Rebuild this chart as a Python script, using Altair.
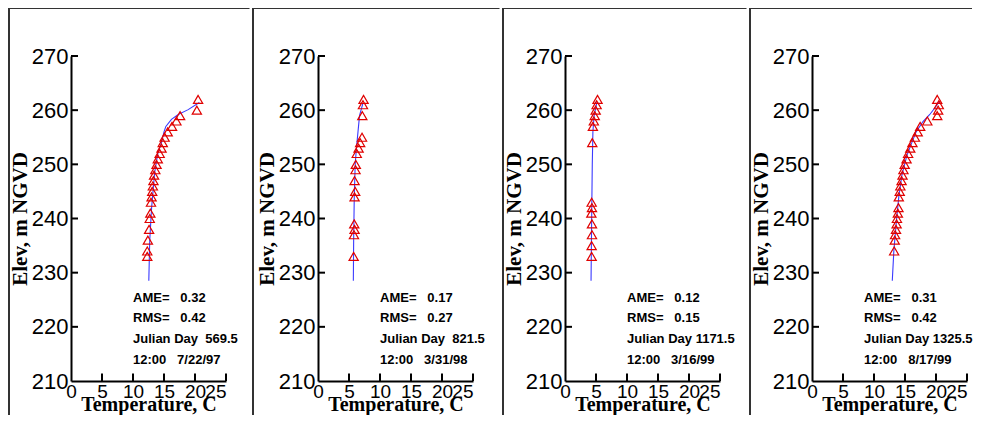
import altair as alt
import pandas as pd

# ---------------- data ----------------
ELEV_TICKS = [210, 220, 230, 240, 250, 260, 270]
TEMP_TICKS = [0, 5, 10, 15, 20, 25]

# Panel 1 : 7/22/97
p1_obs_elev = [262, 260, 259, 258, 257, 256, 255, 254, 253, 252, 251, 250, 249,
               248, 247, 246, 245, 244, 243, 241, 240, 238, 236, 234, 233]
p1_obs_temp = [20.5, 20.3, 17.6, 17.0, 16.3, 15.6, 15.1, 14.8, 14.6, 14.3, 14.0, 13.8, 13.6,
               13.4, 13.3, 13.2, 13.1, 13.0, 12.9, 12.8, 12.7, 12.6, 12.4, 12.3, 12.3]
p1_mod_elev = [228.5, 236, 242, 248.5, 252, 254, 256, 257, 258.3, 259.2, 260.1, 261.4]
p1_mod_temp = [12.55, 12.7, 13.0, 13.5, 14.0, 14.6, 15.0, 15.3, 16.2, 17.3, 18.9, 20.7]
p1_notes = ["AME=   0.32", "RMS=   0.42", "Julian Day  569.5", "12:00   7/22/97"]

# Panel 2 : 3/31/98
p2_obs_elev = [262, 261, 259, 255, 254, 253, 252, 250, 249, 247, 245, 244, 239, 238, 237, 233]
p2_obs_temp = [7.35, 7.25, 7.15, 7.1, 6.8, 6.55, 6.25, 6.1, 6.05, 5.9, 6.0, 5.9, 5.85, 5.9, 5.8, 5.75]
p2_mod_elev = [228.5, 236, 244, 250, 253, 256, 259, 261.3]
p2_mod_temp = [5.7, 5.75, 5.85, 6.0, 6.2, 6.45, 6.7, 7.25]
p2_notes = ["AME=   0.17", "RMS=   0.27", "Julian Day  821.5", "12:00   3/31/98"]

# Panel 3 : 3/16/99
p3_obs_elev = [262, 261, 260, 259, 258, 257, 254, 243, 242, 241, 239, 237, 235, 233]
p3_obs_temp = [5.25, 5.1, 4.95, 4.8, 4.65, 4.5, 4.4, 4.3, 4.35, 4.25, 4.35, 4.35, 4.3, 4.3]
p3_mod_elev = [228.5, 240, 250, 256, 259, 261.5]
p3_mod_temp = [4.2, 4.3, 4.4, 4.5, 4.7, 5.15]
p3_notes = ["AME=   0.12", "RMS=   0.15", "Julian Day 1171.5", "12:00   3/16/99"]

# Panel 4 : 8/17/99
p4_obs_elev = [262, 261, 260, 259, 258, 257, 256, 255, 254, 253, 252, 251, 250, 249,
               248, 247, 246, 245, 244, 242, 241, 240, 239, 238, 237, 236, 234]
p4_obs_temp = [20.2, 20.45, 20.35, 20.2, 18.6, 17.45, 17.05, 16.6, 16.2, 15.85, 15.5, 15.25, 14.95, 14.75,
               14.6, 14.45, 14.25, 14.15, 14.0, 13.95, 13.85, 13.7, 13.65, 13.55, 13.4, 13.35, 13.25]
p4_mod_elev = [228.5, 234, 240, 244, 248, 251.6, 254, 256, 257.9, 259.2, 260.4, 261.7]
p4_mod_temp = [12.95, 13.2, 13.65, 14.0, 14.5, 15.3, 16.1, 16.8, 17.9, 19.0, 19.8, 20.6]
p4_notes = ["AME=   0.31", "RMS=   0.42", "Julian Day 1325.5", "12:00   8/17/99"]

NOTE_ELEV = [225.4, 221.7, 217.7, 213.8]
NOTE_TEMP = [10, 10, 10, 8.4]   # left edge of the note block in each panel

# ---------------- layout constants ----------------
W, H = 155, 325
BORDER = "#333333"


def panel(obs_e, obs_t, mod_e, mod_t, notes, note_t, lx, rx):
    xs = alt.Scale(domain=[0, 25], nice=False, zero=False)
    ys = alt.Scale(domain=[210, 270], nice=False, zero=False)

    xaxis = alt.Axis(
        values=TEMP_TICKS, title="Temperature, C", grid=False, ticks=False, tickSize=0,
        labelPadding=1, labelFont="Liberation Sans", labelFontSize=19, labelColor="black",
        labelFlush=False, labelOverlap=False,
        labelAlign={"condition": {"test": "datum.value == 25", "value": "right"}, "value": "center"},
        domainColor="black", domainWidth=2,
        titleFont="Liberation Serif", titleFontWeight="bold", titleFontSize=20, titleColor="black",
        titleY=29.5, titleBaseline="alphabetic",
    )
    yaxis = alt.Axis(
        values=ELEV_TICKS, title="Elev, m NGVD", grid=False, ticks=False, tickSize=0,
        labelPadding=3, labelFont="Liberation Sans", labelFontSize=22, labelColor="black",
        labelFlush=False, labelOverlap=False,
        domainColor="black", domainWidth=2,
        titleFont="Liberation Serif", titleFontWeight="bold", titleFontSize=21, titleColor="black",
        titleX=-45, titleY=H / 2, titleBaseline="alphabetic", titleAngle=270,
    )

    mod = pd.DataFrame({"elev": mod_e, "temp": mod_t})
    obs = pd.DataFrame({"elev": obs_e, "temp": obs_t})
    notes_df = pd.DataFrame({
        "t": [note_t] * len(notes),
        "e": NOTE_ELEV,
        "label": [s.replace(" ", "\u00a0") for s in notes],
    })

    line = alt.Chart(mod).mark_line(color="#3a3aff", strokeWidth=1.1).encode(
        x=alt.X("temp:Q", scale=xs, axis=xaxis),
        y=alt.Y("elev:Q", scale=ys, axis=yaxis),
        order=alt.Order("elev:Q"),
    )
    pts = alt.Chart(obs).mark_point(
        shape="triangle-up", size=85, filled=False, color="#e00000", strokeWidth=1.2, opacity=1
    ).encode(
        x=alt.X("temp:Q", scale=xs, axis=xaxis),
        y=alt.Y("elev:Q", scale=ys, axis=yaxis),
    )
    ytick = alt.Chart(pd.DataFrame({"v": ELEV_TICKS[1:]})).mark_rule(color="black", strokeWidth=2).encode(
        y=alt.Y("v:Q", scale=ys, axis=yaxis), x=alt.value(0), x2=alt.value(7)
    )
    xtick = alt.Chart(pd.DataFrame({"v": TEMP_TICKS[1:]})).mark_rule(color="black", strokeWidth=2).encode(
        x=alt.X("v:Q", scale=xs, axis=xaxis), y=alt.value(H), y2=alt.value(H - 7.5)
    )
    txt = alt.Chart(notes_df).mark_text(
        align="left", baseline="middle", font="Liberation Sans", fontWeight="bold",
        fontSize=13, color="black"
    ).encode(
        x=alt.X("t:Q", scale=xs, axis=xaxis),
        y=alt.Y("e:Q", scale=ys, axis=yaxis),
        text="label:N",
    )
    one = alt.Data(values=[{"k": 0}])
    left_b = alt.Chart(one).mark_rule(color=BORDER, strokeWidth=2).encode(
        x=alt.value(lx), y=alt.value(-48), y2=alt.value(362)
    )
    top_b = alt.Chart(one).mark_rule(color=BORDER, strokeWidth=2).encode(
        x=alt.value(lx - 1), x2=alt.value(rx), y=alt.value(-48)
    )
    return alt.layer(line, pts, ytick, xtick, txt, left_b, top_b).properties(width=W, height=H)


panels = [
    panel(p1_obs_elev, p1_obs_temp, p1_mod_elev, p1_mod_temp, p1_notes, NOTE_TEMP[0], -62, 178.5),
    panel(p2_obs_elev, p2_obs_temp, p2_mod_elev, p2_mod_temp, p2_notes, NOTE_TEMP[1], -65, 181.5),
    panel(p3_obs_elev, p3_obs_temp, p3_mod_elev, p3_mod_temp, p3_notes, NOTE_TEMP[2], -62, 181.5),
    panel(p4_obs_elev, p4_obs_temp, p4_mod_elev, p4_mod_temp, p4_notes, NOTE_TEMP[3], -62, 160),
]

chart = alt.hconcat(*panels, spacing=0).properties(
    padding={"left": -1, "top": -1, "right": 0, "bottom": -4}
).configure_view(strokeWidth=0)

chart.save("out.html", embed_options={"renderer": "svg", "actions": False})
